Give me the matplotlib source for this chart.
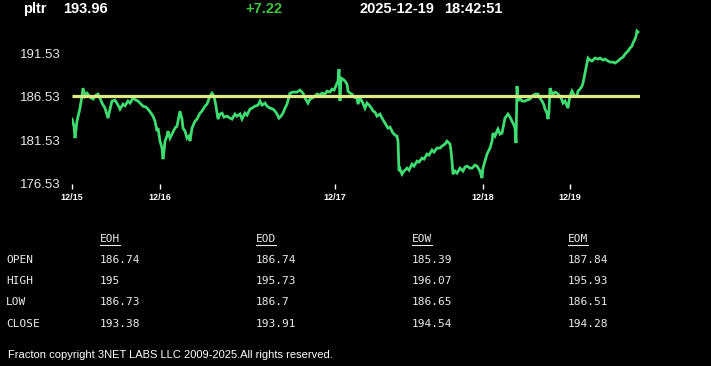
import matplotlib
matplotlib.use('Agg')
import matplotlib.pyplot as plt
from matplotlib.lines import Line2D

# intraday price series (bar index, price)
bars = [0, 2, 3, 5, 8, 10, 11, 13, 15, 18, 21, 24, 26, 28, 30, 33, 36, 38, 40, 43,
        46, 48, 51, 53, 56, 58, 61, 64, 66, 69, 71, 74, 76, 79, 81, 83, 85, 86, 88, 90,
        91, 92, 93, 95, 96, 98, 100, 103, 105, 108, 110, 111, 113, 115, 117, 118, 120, 123, 125, 128,
        130, 133, 135, 138, 140, 142, 144, 146, 148, 150, 152, 155, 158, 160, 163, 165, 168, 170, 173, 175,
        178, 180, 183, 186, 188, 190, 193, 195, 198, 201, 203, 205, 207, 209, 211, 213, 215, 218, 221, 223,
        225, 228, 231, 233, 236, 238, 240, 243, 245, 248, 250, 253, 255, 258, 260, 262, 263, 265, 266, 267,
        268, 269, 271, 273, 275, 276, 278, 280, 282, 285, 286, 288, 290, 293, 295, 298, 300, 301, 303, 305,
        308, 310, 313, 316, 318, 321, 323, 325, 326, 327, 328, 330, 332, 335, 337, 340, 342, 345, 347, 350,
        352, 355, 357, 360, 362, 365, 368, 370, 373, 375, 377, 378, 379, 380, 381, 383, 385, 388, 390, 391,
        393, 395, 398, 400, 403, 405, 408, 410, 411, 413, 415, 418, 420, 421, 423, 425, 426, 428, 430, 432,
        433, 436, 438, 440, 442, 443, 444, 445, 446, 448, 450, 453, 455, 458, 460, 463, 466, 468, 470, 472,
        473, 475, 476, 477, 478, 480, 481, 483, 485, 488, 490, 491, 493, 496, 497, 498, 500, 501, 503, 505,
        506, 508, 510, 511, 513, 515, 516, 518, 520, 522, 523, 526, 528, 531, 533, 536, 538, 541, 543, 546,
        548, 551, 553, 556, 558, 560, 561, 563, 564, 565, 566]
prices = [183.97, 183.17, 181.79, 183.74, 185.23, 186.61, 187.53, 186.61, 186.95, 186.50,
          186.27, 186.72, 186.84, 186.38, 185.81, 185.23, 184.09, 185.12, 186.04, 186.15,
          185.58, 185.12, 185.69, 185.50, 186.04, 185.81, 186.38, 186.15, 186.04, 185.69,
          185.46, 185.35, 185.12, 184.66, 184.31, 183.74, 182.60, 182.94, 181.45, 180.65,
          179.38, 180.30, 181.45, 182.02, 182.60, 181.79, 182.25, 182.94, 183.17, 184.89,
          183.97, 182.94, 182.60, 181.79, 182.02, 181.45, 182.94, 183.74, 183.97, 184.66,
          184.89, 185.46, 185.69, 186.61, 186.95, 186.61, 185.46, 183.97, 184.55, 184.66,
          184.20, 184.31, 184.09, 183.97, 184.55, 184.31, 184.55, 183.97, 184.66, 184.43,
          185.12, 185.23, 185.46, 185.58, 186.04, 185.58, 185.81, 185.46, 185.23, 185.12,
          184.89, 184.55, 184.09, 184.31, 184.66, 185.23, 185.69, 186.95, 187.07, 187.07,
          187.07, 187.30, 186.95, 186.38, 185.81, 186.27, 186.38, 186.61, 186.84, 186.72,
          186.95, 186.84, 187.18, 187.07, 187.41, 187.30, 187.53, 188.10, 188.33, 189.71,
          186.04, 188.67, 188.56, 188.33, 187.98, 187.18, 186.95, 186.84, 186.50, 186.38,
          185.69, 186.38, 186.04, 185.23, 185.81, 185.46, 185.12, 184.89, 184.77, 184.31,
          184.55, 184.09, 183.51, 182.94, 183.05, 182.37, 182.14, 182.02, 181.45, 178.01,
          178.24, 177.66, 178.01, 178.35, 178.12, 178.81, 178.58, 179.15, 179.04, 179.50,
          179.38, 179.96, 179.84, 180.42, 180.19, 180.65, 180.65, 180.88, 181.11, 181.45,
          181.22, 181.11, 180.30, 179.15, 177.66, 178.01, 177.78, 178.35, 178.12, 178.01,
          178.47, 178.58, 178.35, 178.35, 178.70, 178.58, 178.01, 177.21, 178.35, 179.15,
          179.96, 180.65, 181.45, 182.37, 182.02, 182.60, 182.83, 182.25, 182.37, 183.51,
          184.09, 184.55, 184.20, 183.74, 183.28, 182.94, 181.22, 187.76, 186.04, 186.38,
          186.04, 186.04, 186.15, 186.27, 186.61, 186.84, 186.84, 186.38, 186.04, 185.58,
          185.12, 184.66, 183.97, 184.89, 187.53, 186.95, 186.84, 187.07, 186.95, 186.61,
          186.15, 185.81, 186.04, 185.23, 186.04, 186.61, 187.18, 186.95, 186.61, 186.61,
          187.18, 187.41, 187.76, 188.10, 189.25, 190.40, 190.97, 190.74, 190.63, 190.86,
          190.97, 190.86, 190.97, 190.74, 190.86, 190.63, 190.51, 190.51, 190.40, 190.63,
          190.86, 191.08, 191.43, 191.77, 192.12, 192.35, 192.69, 193.15, 193.49, 194.07,
          193.96]
ref_level = 186.6
day_bars = [0, 88, 263, 411, 498]
day_labels = ['12/15', '12/16', '12/17', '12/18', '12/19']
y_ticks = [176.53, 181.53, 186.53, 191.53]

symbol = 'pltr'
last = '193.96'
change = '+7.22'
stamp_date = '2025-12-19'
stamp_time = '18:42:51'

col_heads = ['EOH', 'EOD', 'EOW', 'EOM']
row_heads = ['OPEN', 'HIGH', 'LOW', 'CLOSE']
table = [['186.74', '186.74', '185.39', '187.84'],
         ['195', '195.73', '196.07', '195.93'],
         ['186.73', '186.7', '186.65', '186.51'],
         ['193.38', '193.91', '194.54', '194.28']]
footer = 'Fracton copyright 3NET LABS LLC 2009-2025.All rights reserved.'

W, H = 711, 366
fig = plt.figure(figsize=(W / 100, H / 100), dpi=100, facecolor='black')

def fx(px):
    return px / W

def fy(py):
    return 1 - py / H

ax = fig.add_axes([fx(72), fy(184), fx(640) - fx(72), fy(28) - fy(184)])
ax.set_facecolor('black')
ax.plot(bars, prices, color='#3fdc72', linewidth=2.0, solid_joinstyle='miter')
ax.hlines(ref_level, 0, 568, color='#dfe882', linewidth=2.3)
ax.set_xlim(0, 568)
ax.set_ylim(176.53, 194.42)
for s in ax.spines.values():
    s.set_visible(False)
ax.set_xticks(day_bars)
ax.set_xticklabels(day_labels, fontsize=6.5, fontweight='bold', color='white',
                   family='Liberation Sans')
ax.set_yticks(y_ticks)
ax.set_yticklabels(['%.2f' % v for v in y_ticks], fontsize=9.5, color='#e8e8e8',
                   family='Liberation Sans')
ax.tick_params(axis='x', colors='white', length=3.5, width=1, pad=3)
ax.tick_params(axis='y', length=0, pad=8)
for lab in ax.get_xticklabels():
    lab.set_color('white')

# header
hkw = dict(fontsize=10.5, fontweight='bold', family='Liberation Sans', va='center')
fig.text(fx(23), fy(9), symbol, color='white', **hkw)
fig.text(fx(63), fy(9), last, color='white', **hkw)
fig.text(fx(245), fy(9), change, color='#3fc33f', **hkw)
fig.text(fx(360), fy(9), stamp_date, color='white', **hkw)
fig.text(fx(444), fy(9), stamp_time, color='white', **hkw)

# summary table
tkw = dict(fontsize=8, family='DejaVu Sans Mono', color='#ececec', va='center')
col_x = [100, 256, 412, 568]
row_y = [260, 281, 302, 324]
heads = []
for cx, name in zip(col_x, col_heads):
    heads.append(fig.text(fx(cx), fy(239), name, **tkw))
for ry, name, vals in zip(row_y, row_heads, table):
    fig.text(fx(6), fy(ry), name, **tkw)
    for cx, v in zip(col_x, vals):
        fig.text(fx(cx), fy(ry), v, **tkw)

fig.canvas.draw()
r = fig.canvas.get_renderer()
for t in heads:
    bb = t.get_window_extent(r)
    yl = (bb.y0 - 1) / H
    fig.add_artist(Line2D([bb.x0 / W, bb.x1 / W], [yl, yl], color='#ececec',
                          linewidth=0.8))

fig.text(fx(8), fy(355), footer, fontsize=8, color='white',
         family='Liberation Sans', va='center')

fig.savefig('out.png', dpi=100, facecolor='black')
